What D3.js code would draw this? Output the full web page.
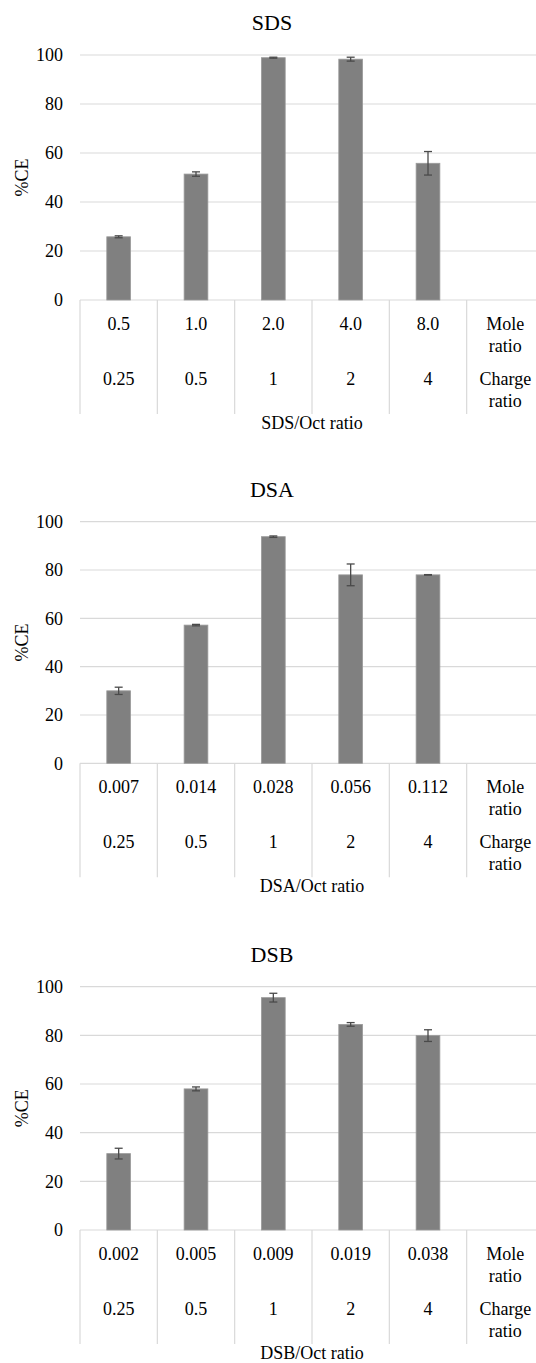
<!DOCTYPE html>
<html>
<head>
<meta charset="utf-8">
<script src="https://cdn.jsdelivr.net/npm/d3@7"></script>
<style>
    body { margin: 0; background: #fff; }
    svg { display: block; }
</style>
</head>
<body>
<svg width="536" height="1363"></svg>
<script>
// Chart data
const titles = ['SDS', 'DSA', 'DSB'];
const axisTitles = ['SDS/Oct ratio', 'DSA/Oct ratio', 'DSB/Oct ratio'];
const chargeRatio = ['0.25', '0.5', '1', '2', '4'];
const sdsMole = ['0.5', '1.0', '2.0', '4.0', '8.0'];
const dsaMole = ['0.007', '0.014', '0.028', '0.056', '0.112'];
const dsbMole = ['0.002', '0.005', '0.009', '0.019', '0.038'];
const sdsValues = [25.8, 51.4, 98.9, 98.3, 55.8];
const sdsErrors = [0.4, 0.9, 0.2, 0.8, 4.8];
const dsaValues = [30.0, 57.2, 93.8, 78.0, 78.0];
const dsaErrors = [1.5, 0.3, 0.3, 4.5, 0.1];
const dsbValues = [31.4, 58.0, 95.5, 84.5, 79.9];
const dsbErrors = [2.2, 0.8, 1.8, 0.75, 2.4];
const yTicks = [0, 20, 40, 60, 80, 100];

const moleRows = [sdsMole, dsaMole, dsbMole];
const valueRows = [sdsValues, dsaValues, dsbValues];
const errorRows = [sdsErrors, dsaErrors, dsbErrors];

// Layout: y of the 100 line and of the 0 line for each panel
const panelTops = [55, 521.7, 986.7];
const panelBottoms = [300, 763.3, 1230];
const left = 80, right = 544;
const serif = "'Liberation Serif', 'Times New Roman', serif";

const svg = d3.select('svg').attr('font-family', serif);

titles.forEach((title, p) => {
    const g = svg.append('g').attr('font-family', serif);
    const top = panelTops[p];
    const bottom = panelBottoms[p];

    // One extra band for the row labels on the right
    const cats = moleRows[p].concat(['label']);
    const x = d3.scaleBand().domain(cats).range([left, right]).paddingInner(0).paddingOuter(0);
    const y = d3.scaleLinear().domain([0, 100]).range([bottom, top]);

    // Gridlines
    g.append('g')
        .selectAll('line')
        .data(yTicks.filter((t) => t > 0))
        .enter()
        .append('line')
        .attr('x1', left)
        .attr('x2', right)
        .attr('y1', (d) => y(d))
        .attr('y2', (d) => y(d))
        .attr('stroke', '#d9d9d9')
        .attr('stroke-width', 1.2);

    // Y axis tick labels
    const yAxis = d3.axisLeft(y).tickValues(yTicks).tickSize(0).tickPadding(0);
    const ya = g.append('g').attr('transform', `translate(63,0)`).call(yAxis);
    ya.attr('font-family', serif).attr('font-size', 18);
    ya.select('.domain').remove();
    ya.selectAll('text').attr('fill', '#000');

    // Category table lines
    g.append('line')
        .attr('x1', left)
        .attr('x2', right)
        .attr('y1', bottom)
        .attr('y2', bottom)
        .attr('stroke', '#d9d9d9')
        .attr('stroke-width', 1.2);
    g.append('g')
        .selectAll('line')
        .data(cats)
        .enter()
        .append('line')
        .attr('x1', (d) => x(d))
        .attr('x2', (d) => x(d))
        .attr('y1', bottom)
        .attr('y2', bottom + 114)
        .attr('stroke', '#d9d9d9')
        .attr('stroke-width', 1.2);

    // Bars
    const data = moleRows[p].map((m, i) => ({ cat: m, value: valueRows[p][i], err: errorRows[p][i] }));
    const bw = x.bandwidth() * 0.307;
    g.append('g')
        .selectAll('rect')
        .data(data)
        .enter()
        .append('rect')
        .attr('x', (d) => x(d.cat) + x.bandwidth() / 2 - bw / 2)
        .attr('width', bw)
        .attr('y', (d) => y(d.value))
        .attr('height', (d) => y(0) - y(d.value))
        .attr('fill', '#808080')
        .attr('stroke', '#9a9a9a')
        .attr('stroke-width', 0.8);

    // Error bars
    const eb = g.append('g').attr('stroke', '#4a4a4a').attr('stroke-width', 1.3);
    data.forEach((d) => {
        const cx = x(d.cat) + x.bandwidth() / 2;
        eb.append('line').attr('x1', cx).attr('x2', cx).attr('y1', y(d.value + d.err)).attr('y2', y(d.value - d.err));
        [d.value + d.err, d.value - d.err].forEach((v) => {
            eb.append('line').attr('x1', cx - 4).attr('x2', cx + 4).attr('y1', y(v)).attr('y2', y(v));
        });
    });

    // Category labels (mole ratio and charge ratio rows)
    const lab = g.append('g').attr('font-size', 18).attr('text-anchor', 'middle').attr('fill', '#000');
    moleRows[p].forEach((m, i) => {
        const cx = x(m) + x.bandwidth() / 2;
        lab.append('text').attr('x', cx).attr('y', bottom + 30).text(m);
        lab.append('text').attr('x', cx).attr('y', bottom + 85).text(chargeRatio[i]);
    });
    const lx = x('label') + x.bandwidth() / 2;
    lab.append('text').attr('x', lx).attr('y', bottom + 30).text('Mole');
    lab.append('text').attr('x', lx).attr('y', bottom + 52).text('ratio');
    lab.append('text').attr('x', lx).attr('y', bottom + 85).text('Charge');
    lab.append('text').attr('x', lx).attr('y', bottom + 107).text('ratio');

    // Axis title
    g.append('text')
        .attr('x', (left + right) / 2)
        .attr('y', bottom + 129)
        .attr('text-anchor', 'middle')
        .attr('font-size', 18)
        .text(axisTitles[p]);

    // Y axis label
    g.append('text')
        .attr('transform', `translate(28,${(top + bottom) / 2}) rotate(-90)`)
        .attr('text-anchor', 'middle')
        .attr('font-size', 18)
        .text('%CE');

    // Chart title
    g.append('text')
        .attr('x', 272)
        .attr('y', top - 25)
        .attr('text-anchor', 'middle')
        .attr('font-size', 22)
        .text(title);
});
</script>
</body>
</html>
